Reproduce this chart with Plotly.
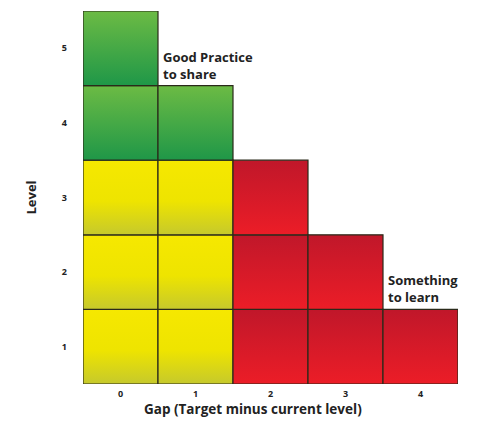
import plotly.graph_objects as go

# Data
gap_ticks = [0, 1, 2, 3, 4]
level_ticks = [1, 2, 3, 4, 5]
cell_gap = [0, 0, 0, 0, 0, 1, 1, 1, 1, 2, 2, 2, 3, 3, 4]
cell_level = [1, 2, 3, 4, 5, 1, 2, 3, 4, 1, 2, 3, 1, 2, 1]
cell_zone = ["yellow", "yellow", "yellow", "green", "green",
             "yellow", "yellow", "yellow", "green",
             "red", "red", "red",
             "red", "red",
             "red"]

zone_gradients = {
    "green": [[0, "#1f9748"], [1, "#6cbb44"]],
    "yellow": [[0, "#c6c92c"], [0.45, "#eee400"], [1, "#f6e800"]],
    "red": [[0, "#ec1d27"], [1, "#c0172a"]],
}

fig = go.Figure()
for g, lv, z in zip(cell_gap, cell_level, cell_zone):
    fig.add_trace(go.Scatter(
        x=[g - 0.5, g + 0.5, g + 0.5, g - 0.5, g - 0.5],
        y=[lv - 0.5, lv - 0.5, lv + 0.5, lv + 0.5, lv - 0.5],
        mode="lines",
        fill="toself",
        fillgradient=dict(type="vertical", colorscale=zone_gradients[z]),
        line=dict(color="#2a2a1a", width=1.2),
        hoverinfo="skip",
        showlegend=False,
    ))

font_family = "Open Sans, Noto Sans, sans-serif"

fig.add_annotation(x=0.5, y=4.5, xref="x", yref="y",
                   text="<b>Good Practice<br>to share</b>",
                   showarrow=False, xanchor="left", yanchor="bottom",
                   align="left", xshift=3, yshift=1,
                   font=dict(size=13, color="#222", family=font_family))
fig.add_annotation(x=3.5, y=1.5, xref="x", yref="y",
                   text="<b>Something<br>to learn</b>",
                   showarrow=False, xanchor="left", yanchor="bottom",
                   align="left", xshift=3, yshift=1,
                   font=dict(size=13, color="#222", family=font_family))
fig.add_annotation(x=0.4533, y=0, xref="paper", yref="paper",
                   text="<b>Gap (Target minus current level)</b>",
                   showarrow=False, xanchor="center", yanchor="middle",
                   yshift=-25,
                   font=dict(size=13.5, color="#222", family=font_family))

fig.update_xaxes(range=[-0.5, 4.5], tickvals=gap_ticks,
                 ticktext=[f"<b>{v}</b>" for v in gap_ticks],
                 showgrid=False, zeroline=False, showline=False,
                 ticks="", ticklabelstandoff=3,
                 tickfont=dict(size=9, color="#222", family=font_family))
fig.update_yaxes(range=[0.5, 5.5], tickvals=level_ticks,
                 ticktext=[f"<b>{v}</b>" for v in level_ticks],
                 showgrid=False, zeroline=False, showline=False,
                 ticks="", ticklabelstandoff=15,
                 tickfont=dict(size=9, color="#222", family=font_family),
                 title=dict(text="<b>Level</b>",
                            font=dict(size=13, color="#222", family=font_family),
                            standoff=22))

fig.update_layout(width=478, height=420,
                  margin=dict(l=75, r=28, t=3, b=44),
                  plot_bgcolor="white", paper_bgcolor="white")

fig.write_html("out.html")
